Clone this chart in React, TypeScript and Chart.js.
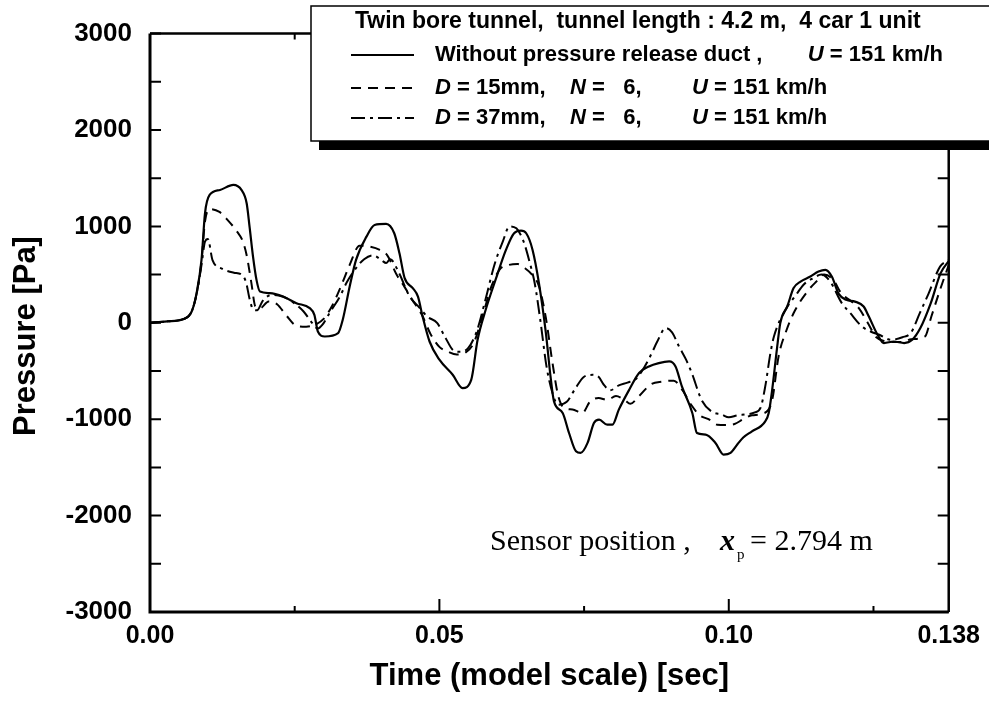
import React, { useEffect, useRef } from "react";
import { Chart, registerables } from "chart.js";

Chart.register(...registerables);

// ---- Data (time in ms, pressure in Pa) ----
const solidT = [0, 3, 5.75, 7.2, 8.05, 8.9, 9.5, 10.3, 12.1, 14.4, 15.8, 16.7, 17.2, 17.8, 18.4, 19.0, 20.7, 23.0, 25.3, 27.6, 28.4, 29.0, 30.2, 32.5, 33.3, 34.5, 35.6, 37.4, 38.8, 40.8, 42.2, 43.1, 44.0, 45.4, 46.3, 47.1, 48.3, 50.0, 52.3, 54.0, 55.5, 56.6, 58.0, 59.8, 61.5, 62.9, 64.1, 65.0, 66.1, 67.2, 68.4, 69.2, 69.8, 71.3, 72.4, 73.6, 74.4, 75.6, 76.7, 77.6, 79.0, 79.9, 81.0, 82.8, 84.5, 86.2, 87.9, 89.7, 90.8, 91.9, 93.7, 94.5, 96.0, 97.7, 99.1, 100.3, 101.5, 102.5, 104.0, 106.3, 106.9, 107.5, 108.3, 108.9, 110.1, 111.2, 112.4, 114.1, 115.5, 116.7, 117.8, 119.0, 120.3, 121.8, 123.3, 124.2, 125.7, 126.8, 128.5, 130.3, 131.7, 133.1, 134.9, 136.6, 138];
const solidP = [0, 15, 38, 117, 308, 653, 1136, 1326, 1378, 1430, 1378, 1240, 998, 687, 445, 324, 308, 272, 204, 152, 83, -90, -142, -107, 31, 376, 653, 894, 1015, 1026, 929, 722, 463, 360, 272, 65, -194, -383, -539, -677, -591, -176, 135, 463, 756, 929, 956, 929, 756, 411, -107, -556, -815, -935, -1143, -1333, -1350, -1246, -1039, -1005, -1057, -1057, -901, -694, -521, -453, -418, -401, -453, -660, -935, -1143, -1160, -1246, -1367, -1350, -1260, -1190, -1126, -1022, -935, -694, -280, -3, 169, 360, 428, 480, 532, 549, 480, 300, 238, 220, 169, 65, -124, -210, -194, -210, -176, -55, 204, 515, 640];

const d15T = [0, 3, 5.75, 7.2, 8.05, 8.9, 9.5, 10.3, 12.0, 13.5, 15.0, 16.0, 16.7, 17.5, 18.2, 19.0, 20.5, 22.0, 23.5, 25.3, 27.0, 28.5, 30.0, 31.5, 33.0, 34.5, 36.2, 38.0, 39.7, 41.0, 42.6, 44.0, 45.3, 47.0, 48.5, 50.0, 51.5, 53.0, 54.5, 56.0, 57.5, 59.0, 60.5, 62.0, 63.5, 64.7, 66.0, 67.2, 68.4, 69.5, 70.5, 71.5, 73.0, 74.7, 76.0, 77.5, 79.0, 80.5, 82.0, 83.0, 84.5, 86.5, 88.5, 90.5, 92.0, 93.5, 95.0, 96.5, 98.0, 99.5, 101.0, 102.5, 104.0, 106.0, 107.5, 108.6, 110.0, 111.5, 113.8, 115.0, 116.5, 118.0, 119.5, 121.0, 122.5, 124.0, 125.5, 127.0, 128.5, 130.0, 131.5, 133.9, 135.0, 136.5, 138];
const d15P = [0, 15, 38, 117, 300, 640, 1050, 1180, 1150, 1060, 950, 850, 700, 420, 170, 150, 220, 190, 80, -30, -40, -20, 40, 180, 380, 600, 800, 790, 756, 700, 500, 370, 240, 80, -120, -250, -300, -330, -310, -200, 80, 380, 560, 600, 610, 570, 500, 380, 50, -400, -750, -880, -900, -935, -820, -780, -800, -760, -800, -840, -760, -640, -610, -600, -700, -850, -960, -1000, -1057, -1060, -1050, -1000, -960, -940, -800, -349, -72, 135, 342, 420, 500, 450, 300, 230, 150, 0, -150, -190, -200, -200, -170, -142, 65, 342, 600];

const d37T = [0, 3, 5.75, 7.2, 8.05, 8.9, 9.5, 10.0, 10.8, 12.5, 14.5, 15.8, 16.6, 17.2, 17.8, 18.5, 19.5, 21.0, 23.0, 25.0, 26.5, 28.0, 29.0, 29.8, 31.0, 32.8, 34.0, 35.5, 37.0, 38.5, 40.0, 40.8, 41.5, 43.0, 44.8, 46.5, 48.0, 49.6, 51.0, 52.5, 53.5, 55.0, 56.5, 58.0, 59.5, 61.0, 62.1, 63.3, 64.5, 65.5, 66.5, 67.5, 68.5, 69.5, 70.5, 72.0, 73.5, 75.0, 76.5, 77.5, 78.5, 79.5, 81.0, 82.5, 84.0, 85.5, 86.7, 87.6, 89.1, 90.2, 91.4, 92.6, 93.6, 95.3, 97.0, 98.8, 100.0, 101.5, 103.0, 104.5, 105.5, 106.3, 107.2, 107.8, 109.8, 111.5, 113.0, 114.5, 116.0, 117.5, 119.5, 121.0, 123.0, 124.5, 126.0, 128.0, 130.0, 131.5, 133.0, 134.5, 136.5, 138];
const d37P = [0, 15, 38, 117, 300, 600, 842, 870, 650, 560, 520, 500, 420, 250, 140, 130, 230, 290, 270, 200, 120, 0, -60, -20, 100, 272, 420, 560, 660, 700, 650, 620, 660, 520, 280, 160, 60, 0, -150, -290, -300, -260, -80, 250, 600, 850, 1000, 980, 850, 650, 400, 0, -450, -720, -850, -820, -680, -560, -540, -560, -650, -700, -650, -620, -580, -450, -314, -200, -55, -100, -245, -380, -520, -800, -920, -953, -980, -960, -950, -930, -880, -660, -313, -142, 135, 280, 400, 460, 500, 430, 207, 100, -38, -90, -124, -176, -150, -100, 100, 300, 583, 650];

const xTickVals = [0, 0.05, 0.1, 0.138];
const xTickLabels = ["0.00", "0.05", "0.10", "0.138"];
const xMinorTicks = [0.025, 0.075, 0.125];
const xMajorTicks = [0.05, 0.1];
const yTickStep = 1000;
const yMinorStep = 500;

const SANS = '"Liberation Sans", Arial, Helvetica, sans-serif';
const SERIF = '"Liberation Serif", "Times New Roman", serif';

const toPts = (t: number[], p: number[]) => t.map((v, i) => ({ x: v / 1000, y: p[i] }));

const decorPlugin = {
  id: "decor",
  afterDraw(chart: any) {
    const { ctx, chartArea: ca, scales } = chart;
    const xs = scales.x;
    const ys = scales.y;
    ctx.save();
    ctx.strokeStyle = "#000";
    ctx.fillStyle = "#000";
    ctx.lineCap = "butt";

    // frame
    ctx.lineWidth = 3;
    ctx.beginPath();
    ctx.moveTo(ca.left, ca.top);
    ctx.lineTo(ca.left, ca.bottom);
    ctx.lineTo(ca.right, ca.bottom);
    ctx.stroke();
    ctx.lineWidth = 2.5;
    ctx.beginPath();
    ctx.moveTo(ca.left, ca.top);
    ctx.lineTo(ca.right, ca.top);
    ctx.lineTo(ca.right, ca.bottom);
    ctx.stroke();

    // y ticks (inward, both sides)
    ctx.lineWidth = 2;
    for (let v = ys.min; v <= ys.max; v += yMinorStep) {
      const py = ys.getPixelForValue(v);
      ctx.beginPath();
      ctx.moveTo(ca.left, py);
      ctx.lineTo(ca.left + 11, py);
      ctx.moveTo(ca.right, py);
      ctx.lineTo(ca.right - 11, py);
      ctx.stroke();
    }
    // x ticks (inward, top and bottom)
    const drawX = (v: number, len: number) => {
      const px = xs.getPixelForValue(v);
      ctx.beginPath();
      ctx.moveTo(px, ca.bottom);
      ctx.lineTo(px, ca.bottom - len);
      ctx.moveTo(px, ca.top);
      ctx.lineTo(px, ca.top + len);
      ctx.stroke();
    };
    xMinorTicks.forEach((v) => drawX(v, 6));
    xMajorTicks.forEach((v) => drawX(v, 13));

    // axis titles
    ctx.font = `bold 31px ${SANS}`;
    ctx.textAlign = "center";
    ctx.textBaseline = "alphabetic";
    ctx.fillText("Time (model scale) [sec]", (ca.left + ca.right) / 2, 685);
    ctx.save();
    ctx.translate(35, 336);
    ctx.rotate(-Math.PI / 2);
    ctx.fillText("Pressure [Pa]", 0, 0);
    ctx.restore();

    // legend box
    const bx = 311, by = 6, bw = 700, bh = 135;
    ctx.fillRect(bx + 8, by + bh, bw, 9);
    ctx.fillStyle = "#fff";
    ctx.fillRect(bx, by, bw, bh);
    ctx.fillStyle = "#000";
    ctx.lineWidth = 1.5;
    ctx.strokeRect(bx, by, bw, bh);

    ctx.textAlign = "left";
    ctx.textBaseline = "middle";
    const bold = `bold 22px ${SANS}`;
    const ital = `italic bold 22px ${SANS}`;
    const drawParts = (parts: [string, boolean][], x: number, y: number) => {
      let cx = x;
      parts.forEach(([t, it]) => {
        ctx.font = it ? ital : bold;
        ctx.fillText(t, cx, y);
        cx += ctx.measureText(t).width;
      });
    };
    const measureParts = (parts: [string, boolean][]) => {
      let w = 0;
      parts.forEach(([t, it]) => {
        ctx.font = it ? ital : bold;
        w += ctx.measureText(t).width;
      });
      return w;
    };

    ctx.font = `bold 23px ${SANS}`;
    ctx.fillText("Twin bore tunnel,  tunnel length : 4.2 m,  4 car 1 unit", 355, 22);

    const rows = [55, 88, 118];
    const dashes = [[], [10, 7], [14, 5, 3, 5]];
    rows.forEach((ry, i) => {
      ctx.save();
      ctx.lineWidth = 2;
      ctx.setLineDash(dashes[i]);
      ctx.beginPath();
      ctx.moveTo(351, ry);
      ctx.lineTo(414, ry);
      ctx.stroke();
      ctx.restore();
    });
    ctx.font = bold;
    ctx.fillText("Without pressure release duct ,", 435, rows[0]);
    const uPart: [string, boolean][] = [["U", true], [" = 151 km/h", false]];
    drawParts(uPart, 943 - measureParts(uPart), rows[0]);

    drawParts([["D", true], [" = 15mm,", false]], 435, rows[1]);
    drawParts([["N", true], [" =   6,", false]], 570, rows[1]);
    drawParts(uPart, 692, rows[1]);

    drawParts([["D", true], [" = 37mm,", false]], 435, rows[2]);
    drawParts([["N", true], [" =   6,", false]], 570, rows[2]);
    drawParts(uPart, 692, rows[2]);

    // sensor annotation
    ctx.textBaseline = "alphabetic";
    ctx.font = `30px ${SERIF}`;
    ctx.fillText("Sensor position ,", 490, 550);
    ctx.font = `italic bold 30px ${SERIF}`;
    ctx.fillText("x", 720, 550);
    ctx.font = `15px ${SERIF}`;
    ctx.fillText("p", 737, 559);
    ctx.font = `30px ${SERIF}`;
    ctx.fillText("= 2.794 m", 750, 550);

    ctx.restore();
  },
};

export default function App() {
  const ref = useRef<HTMLCanvasElement>(null);
  useEffect(() => {
    if (!ref.current) return;
    const common = {
      borderColor: "#000",
      borderWidth: 2,
      pointRadius: 0,
      fill: false,
      cubicInterpolationMode: "monotone" as const,
    };
    const chart = new Chart(ref.current, {
      type: "line",
      data: {
        datasets: [
          { ...common, label: "Without pressure release duct", data: toPts(solidT, solidP), borderWidth: 2.2 },
          { ...common, label: "D = 15mm, N = 6", data: toPts(d15T, d15P), borderDash: [10, 7] },
          { ...common, label: "D = 37mm, N = 6", data: toPts(d37T, d37P), borderDash: [14, 5, 3, 5] },
        ],
      },
      options: {
        responsive: false,
        animation: false,
        devicePixelRatio: 1,
        layout: { padding: { left: 0, top: 33, right: 39, bottom: 0 } },
        plugins: {
          legend: { display: false },
          tooltip: { enabled: false },
        },
        scales: {
          x: {
            type: "linear",
            min: 0,
            max: 0.138,
            grid: { display: false, drawTicks: false },
            border: { display: false },
            afterBuildTicks: (s: any) => {
              s.ticks = xTickVals.map((v) => ({ value: v }));
            },
            afterFit: (s: any) => {
              s.height = 93;
            },
            ticks: {
              autoSkip: false,
              maxRotation: 0,
              padding: 9,
              color: "#000",
              font: { family: SANS, size: 25, weight: "bold" },
              callback: (_v: any, i: number) => xTickLabels[i],
            },
          },
          y: {
            type: "linear",
            min: -3000,
            max: 3000,
            grid: { display: false, drawTicks: false },
            border: { display: false },
            afterFit: (s: any) => {
              s.width = 150;
            },
            ticks: {
              stepSize: yTickStep,
              padding: 18,
              color: "#000",
              font: { family: SANS, size: 26, weight: "bold" },
              callback: (v: any) => String(v),
            },
          },
        },
      },
      plugins: [decorPlugin],
    } as any);
    return () => chart.destroy();
  }, []);
  return (
    <div style={{ position: "absolute", left: 0, top: 0, width: 989, height: 705, background: "#fff" }}>
      <canvas ref={ref} width={989} height={705} style={{ display: "block" }} />
    </div>
  );
}
